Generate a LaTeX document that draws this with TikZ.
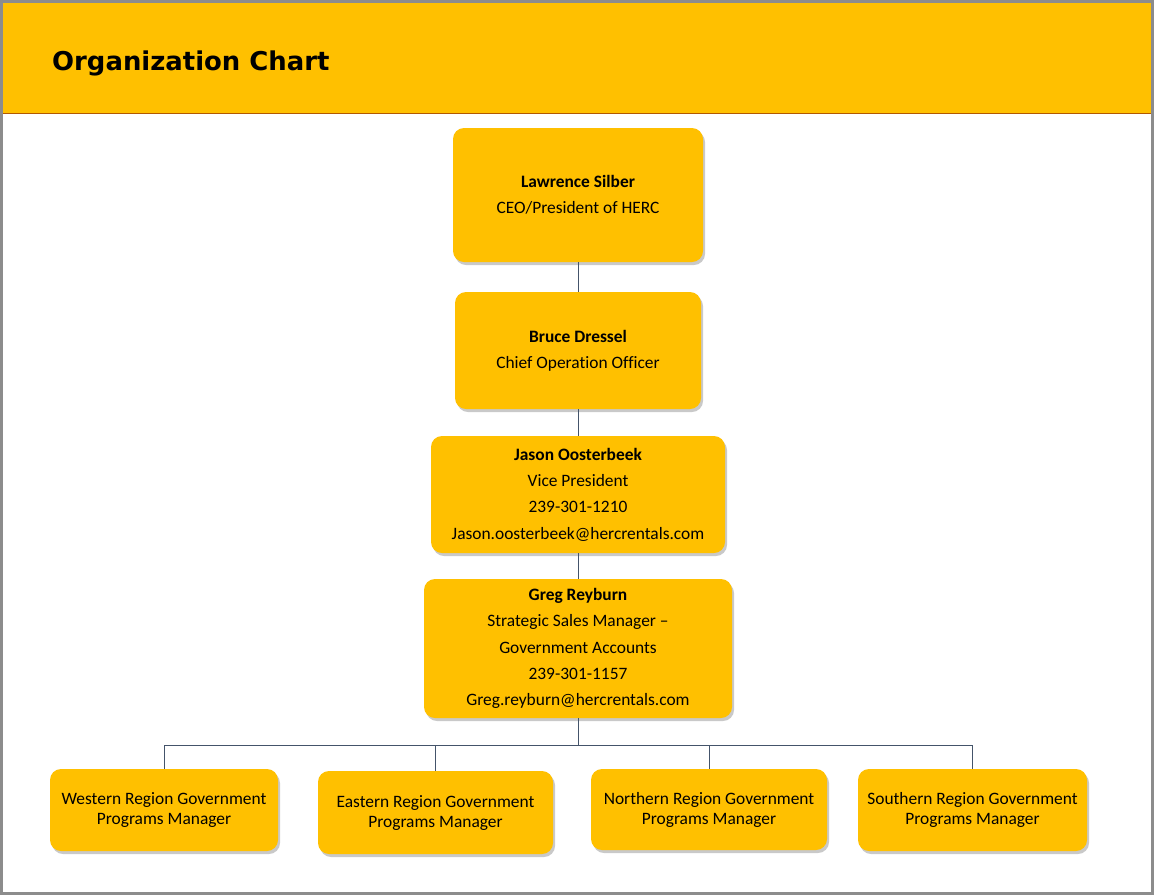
\documentclass[tikz,border=0pt]{standalone}
\usepackage{fontspec}
\setmainfont{Carlito}[Ligatures={TeX,NoCommon}]
\newfontfamily\titlefont{DejaVu Sans}
\usetikzlibrary{positioning, shadows}
\definecolor{hercgold}{HTML}{FFC000}
\definecolor{linkgray}{HTML}{44546A}

\tikzset{
    person/.style={draw=none, fill=hercgold, rounded corners=11pt, align=center,
        font=\fontsize{17.4}{26.3}\selectfont,
        drop shadow={shadow xshift=2pt, shadow yshift=-3pt, opacity=.35, fill=black!60}},
    region/.style={person, font=\fontsize{17.4}{20}\selectfont},
    link/.style={draw=linkgray, line width=1pt}
}

\begin{document}
\begin{tikzpicture}[x=1pt, y=-1pt]
    \useasboundingbox (0,0) rectangle (1154,895);
    \fill[white] (0,0) rectangle (1154,895);
    \fill[hercgold] (3,3) rectangle (1151,113);
    \draw[color=orange!70!black, line width=1pt] (3,113) -- (1151,113);
    \draw[color=gray!90, line width=3pt] (1.5,1.5) rectangle (1152.5,893.5);
    \node (title) [anchor=base west, inner sep=0pt, font=\titlefont\bfseries\fontsize{25.9}{30}\selectfont]
        at (52,70) {Organization Chart};

    \node (B0) [person, minimum width=250pt, minimum height=134pt] at (578,195)
        {\textbf{Lawrence Silber}\\CEO/President of HERC};
    \node (B1) [person, minimum width=246pt, minimum height=117pt] at (578,350.5)
        {\textbf{Bruce Dressel}\\Chief Operation Officer};
    \node (B2) [person, minimum width=294pt, minimum height=117pt] at (578,494.5)
        {\textbf{Jason Oosterbeek}\\Vice President\\239-301-1210\\Jason.oosterbeek@hercrentals.com};
    \node (B3) [person, minimum width=308pt, minimum height=139pt] at (578,648.5)
        {\textbf{Greg Reyburn}\\Strategic Sales Manager --\\Government Accounts\\239-301-1157\\Greg.reyburn@hercrentals.com};

    \node (R1) [region, minimum width=228pt, minimum height=82pt] at (164,810)
        {Western Region Government\\Programs Manager};
    \node (R2) [region, minimum width=235pt, minimum height=83pt] at (435.5,812.5)
        {Eastern Region Government\\Programs Manager};
    \node (R3) [region, minimum width=236pt, minimum height=81pt] at (709,809.5)
        {Northern Region Government\\Programs Manager};
    \node (R4) [region, minimum width=229pt, minimum height=82pt] at (972.5,810)
        {Southern Region Government\\Programs Manager};

    \coordinate (bus) at (578,745);
    \draw[link]
        (B0) -- (B1)
        (B1) -- (B2)
        (B2) -- (B3)
        (B3) -- (bus);
    \foreach \r in {R1,R2,R3,R4}
        \draw[link] (bus) -| (\r.north);
\end{tikzpicture}
\end{document}
